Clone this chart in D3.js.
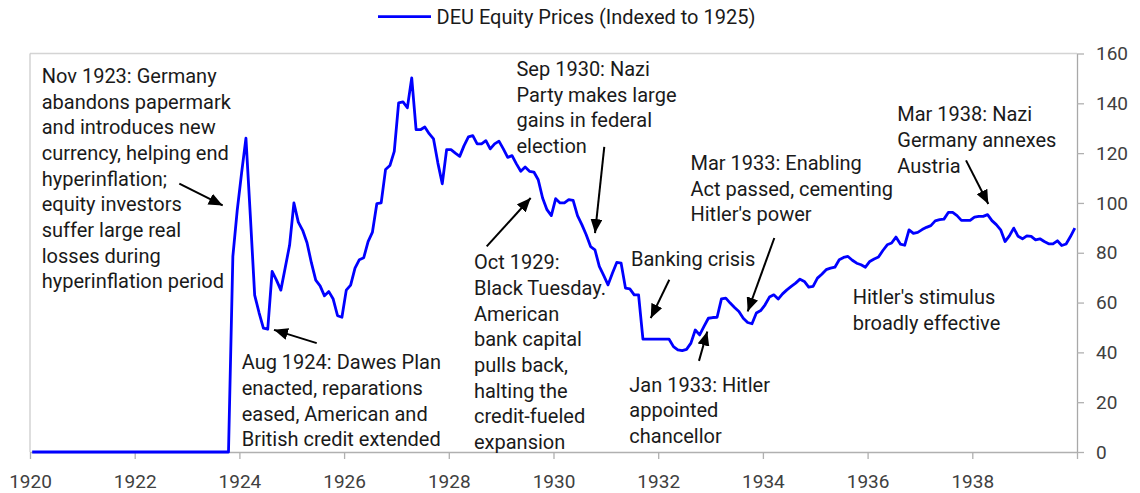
<!DOCTYPE html>
<html>
<head>
<meta charset="utf-8">
<script src="https://cdn.jsdelivr.net/npm/d3@7"></script>
<style>
  html, body { margin: 0; padding: 0; background: #fff; }
  svg { display: block; font-family: Roboto, "Open Sans", sans-serif; }
</style>
</head>
<body>
<svg id="chart" width="1140" height="493"></svg>
<script>
// ---------------- DATA ----------------
const seriesName = "DEU Equity Prices (Indexed to 1925)";
const startYear = 1920;
// Monthly index values, Jan 1920 .. Dec 1939 (one row per year)
const values1920s = [
  0, 0, 0, 0, 0, 0, 0, 0, 0, 0, 0, 0,                               // 1920
  0, 0, 0, 0, 0, 0, 0, 0, 0, 0, 0, 0,                               // 1921
  0, 0, 0, 0, 0, 0, 0, 0, 0, 0, 0, 0,                               // 1922
  0, 0, 0, 0, 0, 0, 0, 0, 0, 0, 78.5, 97,                           // 1923
  112, 126, 95, 63, 56, 49.7, 49.3, 72.5, 69, 65, 74, 83,           // 1924
  100, 92.3, 89, 84, 76, 69, 66.7, 62.7, 64.4, 61.4, 54.7, 54.1,    // 1925
  65, 67, 73.8, 77.2, 78, 84.5, 88.3, 99.7, 100, 113.4, 115, 120.7, // 1926
  140.2, 140.6, 138.2, 150.2, 129.4, 129.4, 130.5, 127.8, 125.7, 116, 107.7, 121.4, // 1927
  121.4, 120, 118.7, 123, 126.5, 127, 123.7, 123.7, 125, 121.7, 123.7, 124.8,       // 1928
  121.7, 118.3, 119, 115.7, 112.7, 114.4, 112.7, 112.4, 109.3, 102, 97.3, 94.9      // 1929
];
const values1930s = [
  101.7, 100, 100, 101.3, 101, 94.9, 91.3, 87.2, 82.5, 81.2, 74.5, 70.9, // 1930
  67.1, 71.8, 76.1, 75.8, 65.8, 65.5, 63.1, 63.1, 45.3, 45.3, 45.3, 45.3, // 1931
  45.3, 45.3, 45.3, 42.3, 41, 40.7, 41.2, 43.7, 49, 47, 50.4, 53.7,       // 1932
  54, 54.1, 61.5, 61.8, 59.8, 58, 56.4, 53.7, 52, 51.5, 55.8, 56.8,       // 1933
  59.1, 62.2, 63.1, 61.4, 63.5, 65.1, 66.5, 67.8, 69.4, 68.5, 66.2, 66.5, // 1934
  69.8, 71.4, 73.2, 73.8, 74.2, 77.2, 78.1, 78.5, 77, 75.8, 75.2, 74.2,   // 1935
  76.5, 77.5, 78.3, 80.9, 83.2, 83.9, 86.3, 83.5, 83, 89.2, 87.8, 88.2,   // 1936
  89.3, 90.2, 90.9, 92.8, 93.3, 93.5, 96.2, 96.2, 94.9, 93, 93, 93,       // 1937
  94.3, 94.6, 94.6, 95.3, 92.9, 91.3, 89.2, 84.5, 86.8, 89.9, 86.6, 85.6, // 1938
  86.8, 86.6, 85.2, 85.6, 84.5, 83.6, 83.6, 84.8, 82.9, 83.5, 86.5, 89.9  // 1939
];
const xTickYears = [1920, 1922, 1924, 1926, 1928, 1930, 1932, 1934, 1936, 1938, 1940];
const xTickLabels = ["1920", "1922", "1924", "1926", "1928", "1930", "1932", "1934", "1936", "1938", ""];
const yTicks = [0, 20, 40, 60, 80, 100, 120, 140, 160];

// Annotations in data units (decimal year, index value)
const noteTexts = [
  ["Nov 1923: Germany", "abandons papermark", "and introduces new", "currency, helping end", "hyperinflation;", "equity investors", "suffer large real", "losses during", "hyperinflation period"],
  ["Aug 1924: Dawes Plan", "enacted, reparations", "eased, American and", "British credit extended"],
  ["Oct 1929:", "Black Tuesday.", "American", "bank capital", "pulls back,", "halting the", "credit-fueled", "expansion"],
  ["Sep 1930: Nazi", "Party makes large", "gains in federal", "election"],
  ["Banking crisis"],
  ["Mar 1933: Enabling", "Act passed, cementing", "Hitler's power"],
  ["Hitler's stimulus", "broadly effective"],
  ["Jan 1933: Hitler", "appointed", "chancellor"],
  ["Mar 1938: Nazi", "Germany annexes", "Austria"]
];
const noteAnchors = [
  [1920.224, 148.2], [1924.044, 33.25], [1928.481, 73.4], [1929.293, 150.95],
  [1931.481, 74.5], [1932.617, 113.25], [1935.715, 59.5], [1931.448, 24.24], [1936.567, 132.78]
];
// arrows: [fromYear, fromValue, toYear, toValue]
const arrows = [
  [1922.852, 107.74, 1923.681, 99.0],
  [1925.477, 43.7, 1924.661, 49.05],
  [1928.724, 82.53, 1929.564, 101.99],
  [1930.970, 122.49, 1930.793, 87.92],
  [1932.212, 69.15, 1931.857, 53.75],
  [1934.218, 85.91, 1933.709, 56.40],
  [1932.779, 36.58, 1932.938, 48.36],
  [1937.880, 117.10, 1938.306, 99.58]
];

// ---------------- CHART ----------------
const svg = d3.select("#chart");
const mLeft = 30, mRight = 1077, mTop = 53.5, mBottom = 452;

const values = values1920s.concat(values1930s);
const series = values.map((v, i) => ({ t: startYear + (i + 0.5) / 12, v }));

const x = d3.scaleLinear().domain([1920, 1940]).range([mLeft, mRight]);
const y = d3.scaleLinear().domain([0, 160]).range([mBottom, mTop]);

// frame (top & left)
svg.append("line").attr("x1", mLeft).attr("x2", mRight).attr("y1", mTop).attr("y2", mTop)
  .attr("stroke", "#d4d4d4").attr("stroke-width", 1.5);
svg.append("line").attr("x1", mLeft).attr("x2", mLeft).attr("y1", mTop).attr("y2", mBottom)
  .attr("stroke", "#c8c8c8").attr("stroke-width", 1.2);

// x axis
const xAxis = d3.axisBottom(x).tickValues(xTickYears)
  .tickFormat((d, i) => xTickLabels[i]).tickSize(7).tickPadding(16).tickSizeOuter(0);
const gx = svg.append("g").attr("transform", `translate(0,${mBottom})`).call(xAxis);
gx.select(".domain").attr("stroke", "#b0b0b0").attr("stroke-width", 1.3);
gx.selectAll(".tick line").attr("stroke", "#b0b0b0").attr("stroke-width", 1.3);
gx.selectAll("text").attr("font-size", 19).attr("fill", "#404040")
  .attr("font-family", "Roboto, sans-serif");

// y axis (right)
const yAxis = d3.axisRight(y).tickValues(yTicks).tickSize(7).tickPadding(12).tickSizeOuter(0);
const gy = svg.append("g").attr("transform", `translate(${mRight},0)`).call(yAxis);
gy.select(".domain").attr("stroke", "#a8a8a8").attr("stroke-width", 1.3);
gy.selectAll(".tick line").attr("stroke", "#b0b0b0").attr("stroke-width", 1.3);
gy.selectAll("text").attr("font-size", 19).attr("fill", "#404040")
  .attr("font-family", "Roboto, sans-serif");

// line
const line = d3.line().x(d => x(d.t)).y(d => y(d.v));
svg.append("path").datum(series).attr("d", line)
  .attr("fill", "none").attr("stroke", "#0000ff").attr("stroke-width", 2.8)
  .attr("stroke-linejoin", "round");

// legend
const lg = svg.append("g");
lg.append("line").attr("x1", 378).attr("x2", 431).attr("y1", 16.7).attr("y2", 16.7)
  .attr("stroke", "#0000ff").attr("stroke-width", 2.8);
lg.append("text").attr("x", 436.5).attr("y", 24.3).attr("font-size", 20)
  .attr("fill", "#1a1a1a").text(seriesName);

// arrow marker
svg.append("defs").append("marker")
  .attr("id", "ah").attr("markerUnits", "userSpaceOnUse")
  .attr("viewBox", "0 0 14 12").attr("markerWidth", 14).attr("markerHeight", 12)
  .attr("refX", 14).attr("refY", 6).attr("orient", "auto")
  .append("path").attr("d", "M0,0 L14,6 L0,12 Z").attr("fill", "#000");

svg.append("g").selectAll("line").data(arrows).join("line")
  .attr("x1", d => x(d[0])).attr("y1", d => y(d[1]))
  .attr("x2", d => x(d[2])).attr("y2", d => y(d[3]))
  .attr("stroke", "#000").attr("stroke-width", 2)
  .attr("marker-end", "url(#ah)");

// annotation texts
const lineH = 25.7;
const notes = svg.append("g");
noteTexts.forEach((lines, k) => {
  const t = notes.append("text")
    .attr("x", x(noteAnchors[k][0])).attr("y", y(noteAnchors[k][1]))
    .attr("font-size", 20).attr("fill", "#1a1a1a");
  lines.forEach((s, j) => {
    t.append("tspan").attr("x", x(noteAnchors[k][0])).attr("dy", j === 0 ? 0 : lineH).text(s);
  });
});
</script>
</body>
</html>
